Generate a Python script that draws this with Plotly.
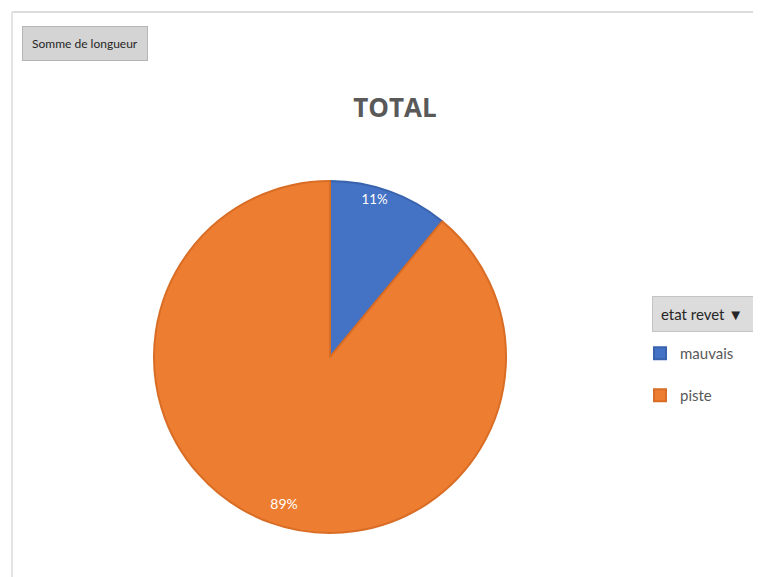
import plotly.graph_objects as go

categories = ["mauvais", "piste"]
values = [11, 89]
colors = ["#4472C4", "#ED7D31"]
edge_colors = ["#3a63ae", "#d96d25"]
title_text = "TOTAL"
field_button = "Somme de longueur"
legend_button = "etat revet \u25BC"

# the page body has an 8px margin; work in page pixels and convert
OFF = 8
W, H = 761 - OFF, 577 - OFF


def px(x):
    return (x - OFF) / W


def py(y):
    return 1 - (y - OFF) / H


cx, cy, r = 330, 357, 176
FONT = "Lato, Roboto, sans-serif"
NB = "\u00a0"

# blank lines / padding push the percentage labels toward the rim, like Excel's layout
lbl_small = "%{percent:.0%}" + "<br> " * 4
lbl_big = " <br>" * 7 + "%{percent:.0%}" + NB * 9

fig = go.Figure(go.Pie(
    labels=[c + "<br> " for c in categories],
    values=values,
    sort=False,
    direction="clockwise",
    rotation=0,
    marker=dict(colors=colors, line=dict(color=edge_colors, width=2)),
    texttemplate=[lbl_small, lbl_big],
    textposition="inside",
    insidetextorientation="horizontal",
    textfont=dict(color="white", size=14, family=FONT),
    domain=dict(x=[px(cx - r), px(cx + r)], y=[py(cy + r), py(cy - r)]),
    customdata=categories,
    hovertemplate="%{customdata}: %{percent}<extra></extra>",
))

fig.update_layout(
    width=W, height=H,
    margin=dict(l=0, r=0, t=0, b=0),
    paper_bgcolor="white",
    title=dict(text="<b>" + title_text + "</b>", x=px(395), xanchor="center", y=py(108), yanchor="middle",
               font=dict(size=26, color="#595959", family="Open Sans, sans-serif")),
    showlegend=True,
    legend=dict(x=px(640), xanchor="left", y=py(337), yanchor="top", valign="top",
                font=dict(size=15, color="#595959", family=FONT),
                bgcolor="rgba(0,0,0,0)"),
    shapes=[
        dict(type="line", xref="paper", yref="paper", x0=px(12), x1=1, y0=py(12), y1=py(12),
             line=dict(color="#dcdcdc", width=2)),
        dict(type="line", xref="paper", yref="paper", x0=px(12), x1=px(12), y0=0, y1=py(12),
             line=dict(color="#e4e4e4", width=2)),
    ],
    annotations=[
        dict(text=field_button, xref="paper", yref="paper", x=px(22), y=py(44), xanchor="left", yanchor="middle",
             showarrow=False, bgcolor="#d4d4d4", bordercolor="#b5b5b5", borderwidth=1, borderpad=9,
             font=dict(size=12, color="#262626", family=FONT)),
        dict(text=legend_button, xref="paper", yref="paper", x=px(652), y=py(314), xanchor="left", yanchor="middle",
             showarrow=False, bgcolor="#dcdcdc", bordercolor="#c4c4c4", borderwidth=1, borderpad=8,
             width=110, align="left",
             font=dict(size=15, color="#262626", family=FONT)),
    ],
)

fig.write_html("out.html")
